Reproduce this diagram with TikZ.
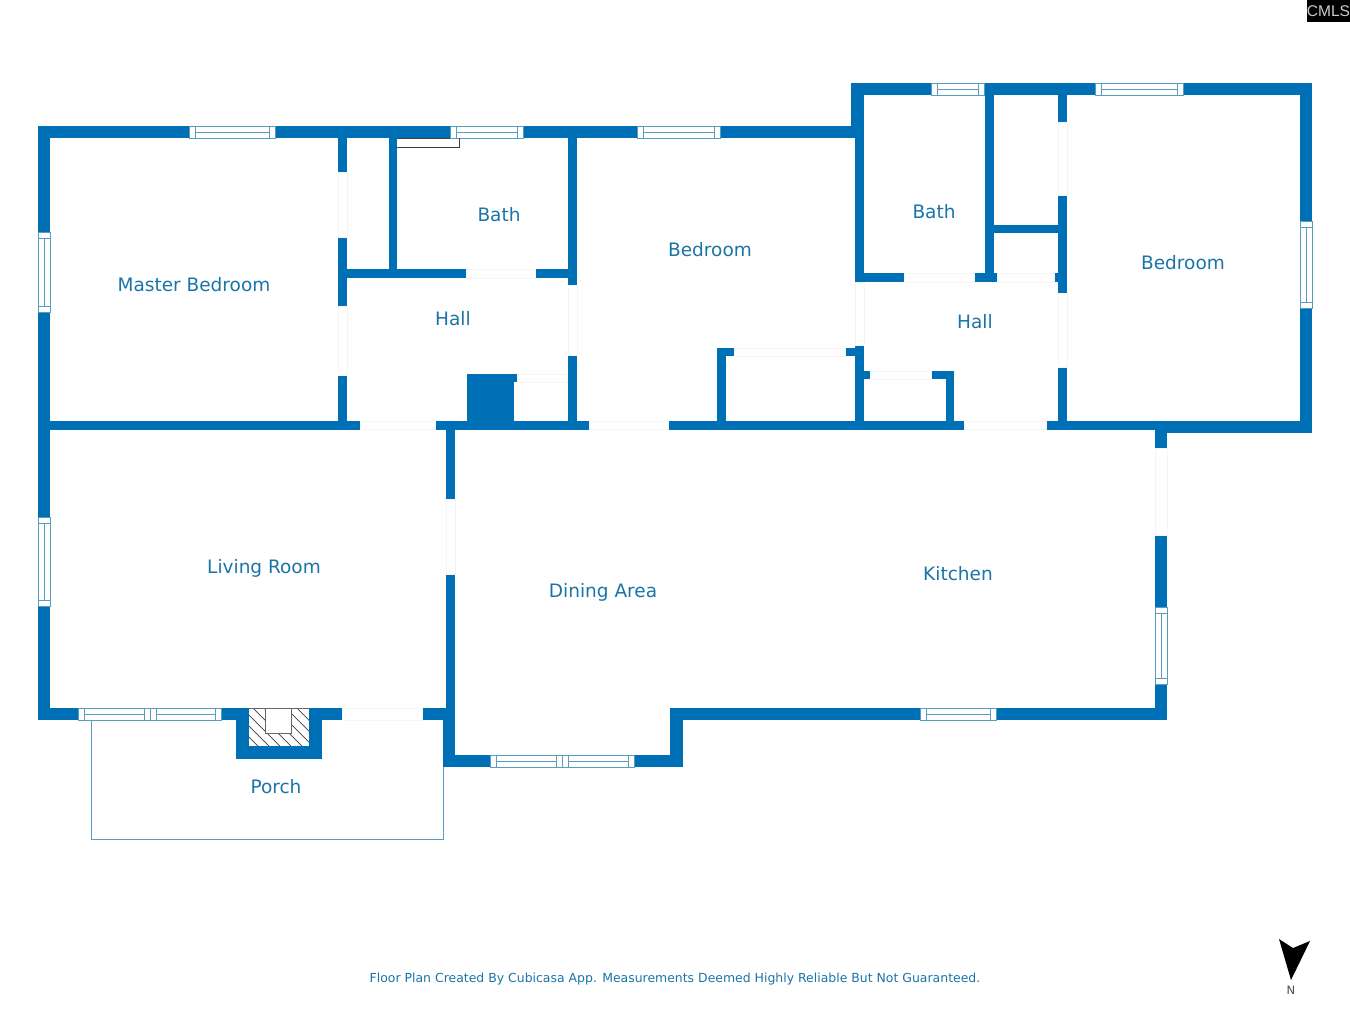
\documentclass[tikz,border=0pt]{standalone}
\usepackage{fontspec}
\setmainfont{DejaVu Sans}
\newfontfamily\logofont{Liberation Sans}
\usepackage{xcolor}
\definecolor{wallblue}{HTML}{0070B6}
\definecolor{labelblue}{HTML}{1B74A8}
\definecolor{frameblue}{HTML}{5A9CBE}
\tikzstyle{wall}=[fill=wallblue]
\tikzstyle{gap}=[fill=white,draw=black!4,line width=0.5pt]
\tikzstyle{pane}=[fill=white,draw=frameblue,line width=0.9pt]
\tikzstyle{rail}=[draw=frameblue,line width=0.9pt]
\tikzstyle{room}=[text=labelblue,font=\fontsize{18.5}{22}\selectfont,inner sep=0pt]
\tikzstyle{hatch}=[draw=black!75,line width=0.7pt]
\newcommand{\hwin}[4]{%
  \draw [pane] (#1,#3) rectangle (#2,#4);
  \draw [rail] (#1+6,#3) -- (#1+6,#4) (#2-6,#3) -- (#2-6,#4) (#1+6,#3/2+#4/2) -- (#2-6,#3/2+#4/2);
}
\newcommand{\vwin}[4]{%
  \draw [pane] (#1,#3) rectangle (#2,#4);
  \draw [rail] (#1,#3+6) -- (#2,#3+6) (#1,#4-6) -- (#2,#4-6) (#1/2+#2/2,#3+6) -- (#1/2+#2/2,#4-6);
}
\begin{document}
\begin{tikzpicture}[x=1pt,y=-1pt]
  \useasboundingbox (0,0) rectangle (1350,1013);
  % outer walls
  \fill [wall] (38,126) rectangle (851,138);
  \fill [wall] (38,126) rectangle (50,720);
  \fill [wall] (851,83) rectangle (1312,95);
  \fill [wall] (851,83) rectangle (864,138);
  \fill [wall] (1300,83) rectangle (1312,433);
  \fill [wall] (1155,421) rectangle (1312,433);
  \fill [wall] (38,421) rectangle (1155,429.5);
  \fill [wall] (1155,421) rectangle (1167,720);
  \fill [wall] (38,708) rectangle (447,720);
  \fill [wall] (670,708) rectangle (1167,720);
  \fill [wall] (670,708) rectangle (683,767);
  \fill [wall] (443,755) rectangle (683,767);
  \fill [wall] (443,708) rectangle (455,767);
  % inner walls, left wing
  \fill [wall] (338,138) rectangle (347,429.5);
  \fill [wall] (389,138) rectangle (397,278);
  \fill [wall] (347,269) rectangle (568,278);
  \fill [wall] (568,138) rectangle (577,429.5);
  \fill [wall] (467,374) rectangle (514,421);
  \fill [wall] (514,374) rectangle (568,382);
  \fill [wall] (446,429.5) rectangle (455,708);
  % inner walls, right wing
  \fill [wall] (855,138) rectangle (864,429.5);
  \fill [wall] (864,273) rectangle (1058,282);
  \fill [wall] (985,95) rectangle (994,282);
  \fill [wall] (994,225) rectangle (1058,233);
  \fill [wall] (1058,95) rectangle (1067,429.5);
  \fill [wall] (717,348) rectangle (855,356);
  \fill [wall] (717,348) rectangle (726,429.5);
  \fill [wall] (864,371) rectangle (954,379);
  \fill [wall] (946,371) rectangle (954,429.5);
  % door openings
  \filldraw [gap] (338,172) rectangle (347,237);
  \filldraw [gap] (338,306) rectangle (347,375);
  \filldraw [gap] (466,269) rectangle (535,278);
  \filldraw [gap] (568,285) rectangle (577,355);
  \filldraw [gap] (517,374) rectangle (567,382);
  \filldraw [gap] (360,421) rectangle (435,429.5);
  \filldraw [gap] (589,421) rectangle (668,429.5);
  \filldraw [gap] (446,499) rectangle (455,574);
  \filldraw [gap] (342,708) rectangle (422,720);
  \filldraw [gap] (734,348) rectangle (845,356);
  \filldraw [gap] (855,282) rectangle (864,345);
  \filldraw [gap] (870,371) rectangle (931,379);
  \filldraw [gap] (904,273) rectangle (974,282);
  \filldraw [gap] (997,273) rectangle (1054,282);
  \filldraw [gap] (1058,122) rectangle (1067,195);
  \filldraw [gap] (1058,293) rectangle (1067,367);
  \filldraw [gap] (964,421) rectangle (1046,429.5);
  \filldraw [gap] (1155,448) rectangle (1167,535);
  % windows
  \hwin{189}{275}{126}{138}
  \hwin{450}{523}{126}{138}
  \hwin{637}{720}{126}{138}
  \hwin{931}{984}{83}{95}
  \hwin{1095}{1183}{83}{95}
  \hwin{920}{996}{708}{720}
  \hwin{78}{150}{708}{720}
  \hwin{150}{221}{708}{720}
  \hwin{490}{562}{755}{767}
  \hwin{562}{634}{755}{767}
  \vwin{38}{50}{232}{312}
  \vwin{38}{50}{517}{606}
  \vwin{1300}{1312}{221}{308}
  \vwin{1155}{1167}{607}{684}
  % bath fitting
  \draw [black!75,line width=0.8pt] (397,147) -- (459,147) -- (459,138);
  \draw [black!75,line width=0.5pt] (397,138) -- (450,138);
  % porch
  \draw [frameblue,line width=0.9pt] (91,720) -- (91,839) -- (443,839) -- (443,767);
  % fireplace
  \fill [wall] (236,708) rectangle (322,759);
  \fill [white] (249,708) rectangle (309,746);
  \begin{scope}
    \clip (249,708) rectangle (309,746);
    \draw [hatch] (220,708) -- (258,746);
    \draw [hatch] (231,708) -- (269,746);
    \draw [hatch] (242,708) -- (280,746);
    \draw [hatch] (253,708) -- (291,746);
    \draw [hatch] (264,708) -- (302,746);
    \draw [hatch] (275,708) -- (313,746);
    \draw [hatch] (286,708) -- (324,746);
    \draw [hatch] (297,708) -- (335,746);
  \end{scope}
  \draw [black!60,line width=0.6pt] (249,708) -- (309,708);
  \filldraw [fill=white,draw=black!60,line width=0.7pt] (265,708) rectangle (291,733);
  % rooms
  \node at (194,284.4) [room] (MasterBedroom) {Master Bedroom};
  \node at (499,214.4) [room] (BathLeft) {Bath};
  \node at (453,318.2) [room] (HallLeft) {Hall};
  \node at (710,249.4) [room] (BedroomMiddle) {Bedroom};
  \node at (934,211.4) [room] (BathRight) {Bath};
  \node at (975,321.2) [room] (HallRight) {Hall};
  \node at (1183,262.4) [room] (BedroomRight) {Bedroom};
  \node at (264,568.8) [room] (LivingRoom) {Living Room};
  \node at (603,592.6) [room] (DiningArea) {Dining Area};
  \node at (958,573.4) [room] (Kitchen) {Kitchen};
  \node at (276,787) [room] (Porch) {Porch};
  % footer, north arrow, logo
  \node at (675,978.8) [text=labelblue,font=\fontsize{12.45}{15}\selectfont,inner sep=0pt] (Footer)
    {Floor Plan Created By Cubicasa App. Measurements Deemed Highly Reliable But Not Guaranteed.};
  \fill [black] (1279,939) -- (1293,948) -- (1310,941) -- (1291,980) -- cycle;
  \node at (1291,990) [text=black!70,font=\fontsize{11.5}{12}\selectfont,inner sep=0pt] (North) {N};
  \fill [black] (1307,0) rectangle (1350,22);
  \node at (1328.5,11) [text=black!20,font=\logofont\fontsize{15.5}{15}\selectfont,inner sep=0pt] (Logo) {CMLS};
\end{tikzpicture}
\end{document}
